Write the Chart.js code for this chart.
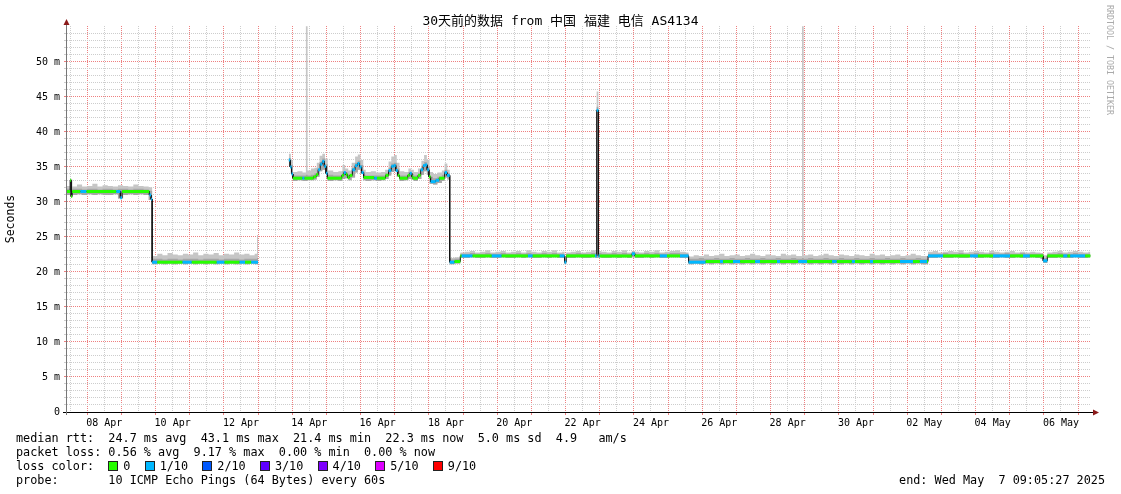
<!DOCTYPE html>
<html>
<head>
<meta charset="utf-8">
<script src="https://cdn.jsdelivr.net/npm/chart.js"></script>
<style>
  html, body { margin: 0; padding: 0; background: #fff; }
  #wrap { position: relative; width: 1121px; height: 494px; overflow: hidden; }
  #box { position: absolute; left: 0; top: 0; width: 1121px; height: 494px; }
  #title { position: absolute; left: 0; top: 13px; width: 1121px; text-align: center;
    font: 13px/16px "DejaVu Sans Mono", "Noto Sans CJK SC", monospace; color: #000; white-space: pre; }
  #mark { position: absolute; left: 1105px; top: 5px; writing-mode: vertical-rl;
    font: 8.3px/10px "DejaVu Sans Mono", monospace; color: #aaa; white-space: pre; }
  .lg { position: absolute; left: 16px; font: 11.8px/14px "DejaVu Sans Mono", monospace; color: #000; white-space: pre; }
  .sw { display: inline-block; width: 8px; height: 8px; border: 1px solid #222; vertical-align: -1px; margin-right: 5px; }
  #end { position: absolute; right: 16px; top: 473px; font: 11.8px/14px "DejaVu Sans Mono", monospace; white-space: pre; }
</style>
</head>
<body>
<div id="wrap">
  <div id="box"><canvas id="rtt"></canvas></div>
  <div id="title">30天前的数据 from 中国 福建 电信 AS4134</div>
  <div id="mark">RRDTOOL / TOBI OETIKER</div>
  <div class="lg" id="l1" style="top:431px"></div>
  <div class="lg" id="l2" style="top:445px"></div>
  <div class="lg" id="l3" style="top:459px"></div>
  <div class="lg" id="l4" style="top:473px"></div>
  <div id="end"></div>
</div>
<script>
// x is day of April (32.5 = 02 May 12:00), y is ms
const xMin = 7.379, xMax = 37.379;

const xLabelDays = [8, 10, 12, 14, 16, 18, 20, 22, 24, 26, 28, 30, 32, 34, 36];
const xTickLabels = ['08 Apr', '10 Apr', '12 Apr', '14 Apr', '16 Apr', '18 Apr', '20 Apr', '22 Apr',
  '24 Apr', '26 Apr', '28 Apr', '30 Apr', '02 May', '04 May', '06 May'];
const yLabelValues = [0, 5, 10, 15, 20, 25, 30, 35, 40, 45, 50];
const yTickLabels = ['0', '5 m', '10 m', '15 m', '20 m', '25 m', '30 m', '35 m', '40 m', '45 m', '50 m'];

const lossLabels = ['0', '1/10', '2/10', '3/10', '4/10', '5/10', '9/10'];
const lossColors = ['#26ff00', '#00b8ff', '#0059ff', '#5e00ff', '#7e00ff', '#dd00ff', '#ff0000'];

// median rtt breakpoints: value (and loss index) holds from time until next time
const medTime = [
  7.38, 7.50, 7.53, 7.56, 7.80, 7.98, 8.85, 8.97, 9.02, 9.82, 9.87,
  9.90, 10.05, 10.79, 11.06, 11.79, 12.02, 12.46, 12.62, 12.80, 13.00,
  13.90, 13.94, 13.98, 14.02, 14.30, 14.36, 14.62, 14.70, 14.76, 14.82,
  14.88, 14.94, 14.99, 15.03, 15.45, 15.51, 15.57, 15.62, 15.68, 15.76,
  15.84, 15.91, 15.97, 16.03, 16.09, 16.40, 16.48, 16.73, 16.82, 16.90,
  16.97, 17.03, 17.09, 17.14, 17.38, 17.44, 17.50, 17.53, 17.68, 17.76,
  17.83, 17.89, 17.95, 18.00, 18.05, 18.20, 18.30, 18.46, 18.53,
  18.61, 18.75, 18.92, 18.96, 19.28, 19.84, 20.13, 20.90, 21.04, 21.83,
  21.97, 22.02, 22.86, 22.91, 22.96, 23.00, 23.94, 24.03, 24.76, 24.97, 25.35,
  25.60, 26.10, 26.52, 26.61, 26.90, 27.11, 27.55, 27.69, 28.19, 28.28,
  28.81, 29.07, 29.80, 29.94, 30.38, 30.47, 30.91, 31.00, 31.79, 32.17, 32.37, 32.58,
  32.61, 33.05, 33.84, 34.07, 34.51, 35.01, 35.39, 35.59, 35.98, 36.10,
  36.57, 36.69, 36.77, 37.21, 37.36
];
const medValue = [
  31.5, 33.1, 30.8, 31.5, 31.5, 31.5, 31.5, 30.6, 31.5, 31.0, 30.4,
  21.4, 21.4, 21.4, 21.4, 21.4, 21.4, 21.4, 21.4, 21.4, null,
  36.0, 35.0, 34.0, 33.4, 33.4, 33.4, 33.6, 33.9, 34.6, 35.4,
  35.8, 35.1, 34.1, 33.4, 33.8, 34.2, 33.9, 33.5, 33.8, 34.6,
  35.2, 35.5, 35.0, 34.2, 33.5, 33.4, 33.4, 33.8, 34.5, 35.1,
  35.2, 34.5, 33.8, 33.4, 33.8, 34.1, 33.6, 33.4, 33.8, 34.6,
  35.2, 35.3, 34.6, 33.6, 32.9, 33.1, 33.4, 34.2, 33.8,
  21.4, 21.5, 22.3, 22.3, 22.3, 22.3, 22.3, 22.3, 22.3, 22.3,
  21.4, 22.3, 22.3, 43.1, 22.3, 22.3, 22.6, 22.3, 22.3, 22.3, 22.3,
  21.4, 21.5, 21.5, 21.5, 21.5, 21.5, 21.5, 21.5, 21.5, 21.5,
  21.5, 21.5, 21.5, 21.5, 21.5, 21.5, 21.5, 21.5, 21.5, 21.5, 21.5, 21.5,
  22.3, 22.3, 22.3, 22.3, 22.3, 22.3, 22.3, 22.3, 21.6, 22.3,
  22.3, 22.3, 22.3, 22.3, 22.3
];
const medLoss = [
  0, 0, 0, 0, 1, 0, 1, 1, 0, 1, 1,
  1, 0, 1, 0, 1, 0, 1, 0, 1, 0,
  1, 1, 1, 0, 1, 0, 0, 0, 1, 1,
  1, 1, 1, 0, 0, 1, 0, 0, 0, 1,
  1, 1, 1, 1, 0, 1, 0, 0, 1, 1,
  1, 1, 0, 0, 0, 1, 0, 0, 0, 1,
  1, 1, 1, 0, 1, 1, 0, 1, 1,
  1, 0, 0, 1, 0, 1, 0, 1, 0, 1,
  1, 0, 1, 1, 1, 0, 1, 0, 1, 0, 1,
  1, 0, 1, 0, 1, 0, 1, 0, 1, 0,
  1, 0, 1, 0, 1, 0, 1, 0, 1, 0, 1, 0,
  1, 0, 1, 0, 1, 0, 1, 0, 1, 0,
  1, 0, 1, 0, 0
];

// smoke (ping spread) envelope, stepped
const smokeTime = [
  7.38, 7.50, 7.56, 7.70, 7.85, 8.00, 8.15, 8.30, 8.45, 8.60,
  8.75, 8.90, 9.05, 9.20, 9.35, 9.50, 9.65, 9.80,
  9.90, 10.05, 10.20, 10.35, 10.50, 10.65, 10.80, 10.95, 11.10, 11.25,
  11.40, 11.55, 11.70, 11.85, 12.00, 12.15, 12.30, 12.45, 12.60, 12.75,
  12.90, 12.97, 13.00, 13.01,
  13.90, 13.96, 14.02, 14.15, 14.30, 14.40, 14.45, 14.55, 14.65, 14.72,
  14.80, 14.88, 14.96, 15.04, 15.20, 15.35, 15.47, 15.55, 15.64, 15.74,
  15.84, 15.92, 16.00, 16.08, 16.15, 16.30, 16.45, 16.60, 16.72, 16.82,
  16.90, 16.98, 17.06, 17.14, 17.28, 17.40, 17.48, 17.56, 17.68, 17.78,
  17.86, 17.94, 18.02, 18.12, 18.25, 18.38, 18.46, 18.54,
  18.61, 18.75, 18.92, 19.05, 19.20, 19.35, 19.50, 19.65, 19.80, 19.95,
  20.10, 20.25, 20.40, 20.55, 20.70, 20.85, 21.00, 21.15, 21.30, 21.45,
  21.60, 21.75, 21.90, 21.97, 22.02, 22.15, 22.30, 22.45, 22.60, 22.75,
  22.88, 22.91, 22.96, 23.05, 23.20, 23.35, 23.50, 23.65, 23.80, 23.94,
  24.03, 24.15, 24.30, 24.45, 24.60, 24.75, 24.90, 25.05, 25.20, 25.35,
  25.50,
  25.60, 25.75, 25.90, 26.05, 26.20, 26.35, 26.50, 26.65, 26.80, 26.95,
  27.10, 27.25, 27.40, 27.55, 27.70, 27.85, 28.00, 28.15, 28.30, 28.45,
  28.60, 28.75, 28.92, 28.97, 29.10, 29.25, 29.40, 29.55, 29.70, 29.85,
  30.00, 30.15, 30.30, 30.45, 30.60, 30.75, 30.90, 31.05, 31.20, 31.35,
  31.50, 31.65, 31.80, 31.95, 32.10, 32.25, 32.40,
  32.61, 32.75, 32.90, 33.05, 33.20, 33.35, 33.50, 33.65, 33.80, 33.95,
  34.10, 34.25, 34.40, 34.55, 34.70, 34.85, 35.00, 35.15, 35.30, 35.45,
  35.60, 35.75, 35.90, 35.98, 36.10, 36.25, 36.40, 36.55, 36.70, 36.85,
  37.00, 37.15, 37.30, 37.36
];
const smokeHigh = [
  32.3, 33.3, 32.2, 32.5, 32.2, 32.3, 32.6, 32.2, 32.4, 32.3,
  32.2, 32.4, 32.3, 32.2, 32.5, 32.3, 32.2, 32.1,
  22.3, 22.6, 22.4, 22.7, 22.5, 22.4, 22.6, 22.5, 22.8, 22.4,
  22.6, 22.5, 22.7, 22.4, 22.6, 22.5, 22.8, 22.5, 22.6, 22.4,
  22.6, 25.3, 22.6, null,
  36.9, 36.0, 34.3, 34.4, 34.2, 55.1, 34.5, 34.8, 34.9, 35.6,
  36.6, 36.9, 36.2, 34.5, 34.3, 34.4, 35.3, 34.8, 34.5, 35.6,
  36.5, 36.8, 36.0, 34.6, 34.3, 34.4, 34.2, 34.3, 34.6, 35.8,
  36.5, 36.7, 35.6, 34.4, 34.3, 34.8, 34.6, 34.3, 34.8, 35.9,
  36.7, 36.0, 34.3, 34.0, 34.2, 34.5, 35.5, 34.6,
  22.0, 22.1, 22.8, 22.9, 23.0, 22.8, 22.9, 23.1, 22.8, 22.9,
  23.0, 22.8, 22.9, 23.0, 22.8, 23.1, 22.9, 22.8, 23.0, 22.9,
  23.1, 22.8, 22.9, 22.2, 22.8, 22.9, 23.0, 22.8, 22.9, 23.1,
  22.9, 45.8, 23.0, 22.9, 22.8, 23.0, 22.9, 23.1, 22.8, 23.0,
  22.9, 22.8, 23.0, 22.9, 23.1, 22.8, 22.9, 23.0, 23.1, 22.9,
  22.8,
  22.2, 22.4, 22.3, 22.5, 22.3, 22.4, 22.6, 22.3, 22.4, 22.5,
  22.3, 22.4, 22.6, 22.4, 22.3, 22.5, 22.4, 22.3, 22.6, 22.4,
  22.5, 22.3, 55.1, 22.4, 22.5, 22.3, 22.4, 22.6, 22.4, 22.3,
  22.5, 22.4, 22.3, 22.5, 22.4, 22.3, 22.6, 22.4, 22.5, 22.3,
  22.4, 22.5, 22.3, 22.4, 22.6, 22.4, 22.3,
  22.9, 23.0, 22.8, 22.9, 23.0, 22.9, 23.1, 22.8, 22.9, 23.0,
  22.9, 22.8, 23.0, 22.9, 22.8, 22.9, 23.0, 22.8, 22.9, 22.8,
  22.9, 22.8, 22.7, 22.4, 22.8, 22.9, 23.0, 22.8, 22.9, 23.0,
  22.9, 22.8, 22.9, 22.9
];
const smokeDark = [
  31.9, 33.1, 31.9, 31.9, 31.8, 31.9, 31.9, 31.8, 31.9, 31.9,
  31.8, 31.9, 31.9, 31.8, 31.9, 31.9, 31.8, 31.6,
  21.9, 21.9, 21.8, 21.9, 21.9, 21.8, 21.9, 21.9, 21.9, 21.8,
  21.9, 21.9, 21.9, 21.8, 21.9, 21.9, 21.9, 21.8, 21.9, 21.9,
  21.9, 22.0, 21.9, null,
  36.3, 35.3, 33.8, 33.8, 33.8, 33.9, 33.8, 33.9, 34.1, 34.8,
  35.7, 36.2, 35.4, 33.9, 33.8, 33.8, 34.4, 34.2, 33.9, 34.9,
  35.6, 35.9, 35.3, 33.9, 33.8, 33.8, 33.8, 33.8, 34.1, 34.9,
  35.5, 35.6, 34.8, 33.8, 33.8, 34.3, 34.0, 33.8, 34.1, 35.0,
  35.7, 35.0, 33.6, 33.4, 33.6, 33.9, 34.6, 34.1,
  21.8, 21.9, 22.6, 22.6, 22.7, 22.6, 22.6, 22.7, 22.6, 22.6,
  22.7, 22.6, 22.6, 22.7, 22.6, 22.7, 22.6, 22.6, 22.7, 22.6,
  22.7, 22.6, 22.6, 21.8, 22.6, 22.6, 22.7, 22.6, 22.6, 22.7,
  22.6, 43.6, 22.7, 22.6, 22.6, 22.7, 22.6, 22.7, 22.6, 22.9,
  22.6, 22.6, 22.7, 22.6, 22.7, 22.6, 22.6, 22.7, 22.7, 22.6,
  22.6,
  21.9, 21.9, 22.0, 21.9, 21.9, 22.0, 21.9, 21.9, 22.0, 21.9,
  21.9, 22.0, 21.9, 21.9, 22.0, 21.9, 21.9, 22.0, 21.9, 21.9,
  22.0, 21.9, 22.0, 21.9, 22.0, 21.9, 21.9, 22.0, 21.9, 21.9,
  22.0, 21.9, 21.9, 22.0, 21.9, 21.9, 22.0, 21.9, 21.9, 22.0,
  21.9, 21.9, 22.0, 21.9, 21.9, 22.0, 21.9,
  22.6, 22.6, 22.6, 22.7, 22.6, 22.6, 22.7, 22.6, 22.6, 22.7,
  22.6, 22.6, 22.7, 22.6, 22.6, 22.7, 22.6, 22.6, 22.7, 22.6,
  22.6, 22.6, 22.6, 22.0, 22.6, 22.6, 22.7, 22.6, 22.6, 22.7,
  22.6, 22.6, 22.6, 22.6
];
const smokeLow = [
  31.0, 30.7, 31.0, 31.1, 31.0, 31.1, 31.0, 31.1, 31.0, 31.0,
  31.1, 30.5, 31.0, 31.1, 31.0, 31.1, 31.0, 30.3,
  21.1, 21.2, 21.1, 21.2, 21.1, 21.2, 21.1, 21.2, 21.1, 21.2,
  21.1, 21.2, 21.1, 21.2, 21.1, 21.2, 21.1, 21.2, 21.1, 21.2,
  21.1, 21.1, 21.1, null,
  35.0, 34.0, 33.0, 33.1, 33.0, 33.0, 33.1, 33.1, 33.2, 33.6,
  34.4, 34.6, 34.0, 33.0, 33.1, 33.0, 33.3, 33.4, 33.1, 33.5,
  34.2, 34.6, 34.0, 33.1, 33.0, 33.1, 33.0, 33.1, 33.3, 33.8,
  34.3, 34.4, 33.6, 33.0, 33.1, 33.3, 33.2, 33.0, 33.3, 33.9,
  34.4, 33.9, 32.6, 32.5, 32.7, 33.0, 33.5, 33.2,
  21.1, 21.2, 22.0, 22.0, 22.1, 22.0, 22.0, 22.1, 22.0, 22.0,
  22.1, 22.0, 22.0, 22.1, 22.0, 22.1, 22.0, 22.0, 22.1, 22.0,
  22.1, 22.0, 22.0, 21.1, 22.0, 22.0, 22.1, 22.0, 22.0, 22.1,
  22.0, 22.0, 22.1, 22.0, 22.0, 22.1, 22.0, 22.1, 22.0, 22.1,
  22.0, 22.0, 22.1, 22.0, 22.1, 22.0, 22.0, 22.1, 22.1, 22.0,
  22.0,
  21.1, 21.2, 21.1, 21.2, 21.1, 21.2, 21.1, 21.2, 21.1, 21.2,
  21.1, 21.2, 21.1, 21.2, 21.1, 21.2, 21.1, 21.2, 21.1, 21.2,
  21.1, 21.2, 21.1, 21.2, 21.1, 21.2, 21.1, 21.2, 21.1, 21.2,
  21.1, 21.2, 21.1, 21.2, 21.1, 21.2, 21.1, 21.2, 21.1, 21.2,
  21.1, 21.2, 21.1, 21.2, 21.1, 21.2, 21.1,
  22.0, 22.0, 22.1, 22.0, 22.0, 22.1, 22.0, 22.0, 22.1, 22.0,
  22.0, 22.1, 22.0, 22.0, 22.1, 22.0, 22.0, 22.1, 22.0, 22.0,
  22.1, 22.0, 21.9, 21.3, 22.0, 22.0, 22.1, 22.0, 22.0, 22.1,
  22.0, 22.0, 22.1, 22.0
];

const statsText = 'median rtt:  24.7 ms avg  43.1 ms max  21.4 ms min  22.3 ms now  5.0 ms sd  4.9   am/s';
const lossText = 'packet loss: 0.56 % avg  9.17 % max  0.00 % min  0.00 % now';
const probeText = 'probe:       10 ICMP Echo Pings (64 Bytes) every 60s';
const endText = 'end: Wed May  7 09:05:27 2025';

// legend text under the chart
document.getElementById('l1').textContent = statsText;
document.getElementById('l2').textContent = lossText;
document.getElementById('l4').textContent = probeText;
document.getElementById('end').textContent = endText;
const l3 = document.getElementById('l3');
l3.appendChild(document.createTextNode('loss color:  '));
lossLabels.forEach((lab, i) => {
  const sw = document.createElement('span');
  sw.className = 'sw';
  sw.style.background = lossColors[i];
  l3.appendChild(sw);
  l3.appendChild(document.createTextNode(lab + '  '));
});

// step path for the median: horizontal runs joined by verticals
function medianPoints() {
  const pts = [];
  for (let i = 0; i < medTime.length - 1; i++) {
    if (medValue[i] === null) { pts.push({ x: medTime[i], y: null }); continue; }
    pts.push({ x: medTime[i], y: medValue[i], loss: medLoss[i] });
    pts.push({ x: medTime[i + 1], y: medValue[i], loss: medLoss[i] });
  }
  return pts;
}
const smokePts = vals => smokeTime.map((t, i) => ({ x: t, y: vals[i] }));

const MAJOR = 'rgb(238,128,128)';
const MINOR = 'rgb(205,205,205)';
const MONO = "'DejaVu Sans Mono', monospace";

const axisArrows = {
  id: 'axisArrows',
  afterDraw(chart) {
    const { ctx, chartArea: a } = chart;
    ctx.save();
    ctx.lineWidth = 1;
    ctx.strokeStyle = '#000';
    ctx.beginPath();
    ctx.moveTo(a.left - 3, a.bottom + 0.5);
    ctx.lineTo(a.right + 3, a.bottom + 0.5);
    ctx.stroke();
    ctx.strokeStyle = '#777';
    ctx.beginPath();
    ctx.moveTo(a.left + 0.5, a.bottom + 3);
    ctx.lineTo(a.left + 0.5, a.top - 2);
    ctx.stroke();
    ctx.fillStyle = '#8b1a1a';
    ctx.beginPath();
    ctx.moveTo(a.left + 0.5, a.top - 7);
    ctx.lineTo(a.left - 2.5, a.top - 1);
    ctx.lineTo(a.left + 3.5, a.top - 1);
    ctx.fill();
    ctx.beginPath();
    ctx.moveTo(a.right + 8, a.bottom + 0.5);
    ctx.lineTo(a.right + 2, a.bottom - 2.5);
    ctx.lineTo(a.right + 2, a.bottom + 3.5);
    ctx.fill();
    ctx.restore();
  }
};

new Chart(document.getElementById('rtt'), {
  type: 'line',
  data: {
    datasets: [
      {
        label: 'median rtt',
        data: medianPoints(),
        borderWidth: 3,
        borderColor: lossColors[0],
        borderCapStyle: 'butt',
        pointRadius: 0,
        spanGaps: false,
        segment: {
          borderColor: ctx => ctx.p0.parsed.x === ctx.p1.parsed.x
            ? 'rgba(0,0,0,0)' : lossColors[ctx.p0.raw.loss]
        }
      },
      {
        label: 'median line',
        data: medianPoints(),
        borderWidth: 1,
        borderColor: '#111',
        pointRadius: 0,
        spanGaps: false
      },
      {
        label: 'smoke core',
        data: smokePts(smokeDark),
        stepped: true,
        borderWidth: 0,
        pointRadius: 0,
        spanGaps: false,
        fill: 4,
        backgroundColor: '#a6a6a6'
      },
      {
        label: 'smoke',
        data: smokePts(smokeHigh),
        stepped: true,
        borderWidth: 0,
        pointRadius: 0,
        spanGaps: false,
        fill: 4,
        backgroundColor: '#c6c6c6'
      },
      {
        label: 'smoke low',
        data: smokePts(smokeLow),
        stepped: true,
        borderWidth: 0,
        pointRadius: 0,
        spanGaps: false,
        fill: false
      }
    ]
  },
  options: {
    responsive: true,
    maintainAspectRatio: false,
    animation: false,
    devicePixelRatio: 1,
    events: [],
    layout: { padding: { left: 0, top: 26, right: 30, bottom: 52 } },
    plugins: {
      legend: { display: false },
      tooltip: { enabled: false }
    },
    scales: {
      x: {
        type: 'linear',
        min: xMin,
        max: xMax,
        afterBuildTicks: s => {
          const t = [];
          for (let k = Math.ceil(xMin * 2); k <= Math.floor(xMax * 2); k++) t.push({ value: k / 2 });
          s.ticks = t;
        },
        afterFit: s => { s.height = 30; },
        grid: {
          color: ctx => (ctx.tick && ctx.tick.value % 1 === 0) ? MAJOR : MINOR,
          tickColor: ctx => (ctx.tick && ctx.tick.value % 1 === 0) ? MAJOR : 'rgba(0,0,0,0)',
          tickLength: 3,
          lineWidth: 1
        },
        border: { color: '#000', dash: ctx => ctx.tick ? [1, 1] : [] },
        ticks: {
          autoSkip: false,
          maxRotation: 0,
          padding: 2,
          color: '#000',
          font: { family: MONO, size: 10 },
          callback: v => {
            const i = xLabelDays.indexOf(v - 0.5);
            return i >= 0 ? xTickLabels[i] : '';
          }
        }
      },
      y: {
        min: 0,
        max: 55.14,
        afterBuildTicks: s => {
          const t = [];
          for (let v = 0; v <= 54; v++) t.push({ value: v });
          s.ticks = t;
        },
        afterFit: s => { s.width = 66; },
        grid: {
          color: ctx => (ctx.tick && ctx.tick.value % 5 === 0) ? MAJOR : MINOR,
          tickColor: ctx => (ctx.tick && ctx.tick.value % 5 === 0) ? MAJOR : MINOR,
          tickLength: 2,
          lineWidth: 1
        },
        border: { color: '#777', dash: ctx => ctx.tick ? [1, 1] : [] },
        ticks: {
          autoSkip: false,
          padding: 4,
          color: '#000',
          font: { family: MONO, size: 10 },
          callback: v => {
            const i = yLabelValues.indexOf(v);
            return i >= 0 ? yTickLabels[i] : '';
          }
        },
        title: {
          display: true,
          text: 'Seconds',
          color: '#000',
          padding: 4,
          font: { family: MONO, size: 11.5 }
        }
      }
    }
  },
  plugins: [axisArrows]
});
</script>
</body>
</html>
